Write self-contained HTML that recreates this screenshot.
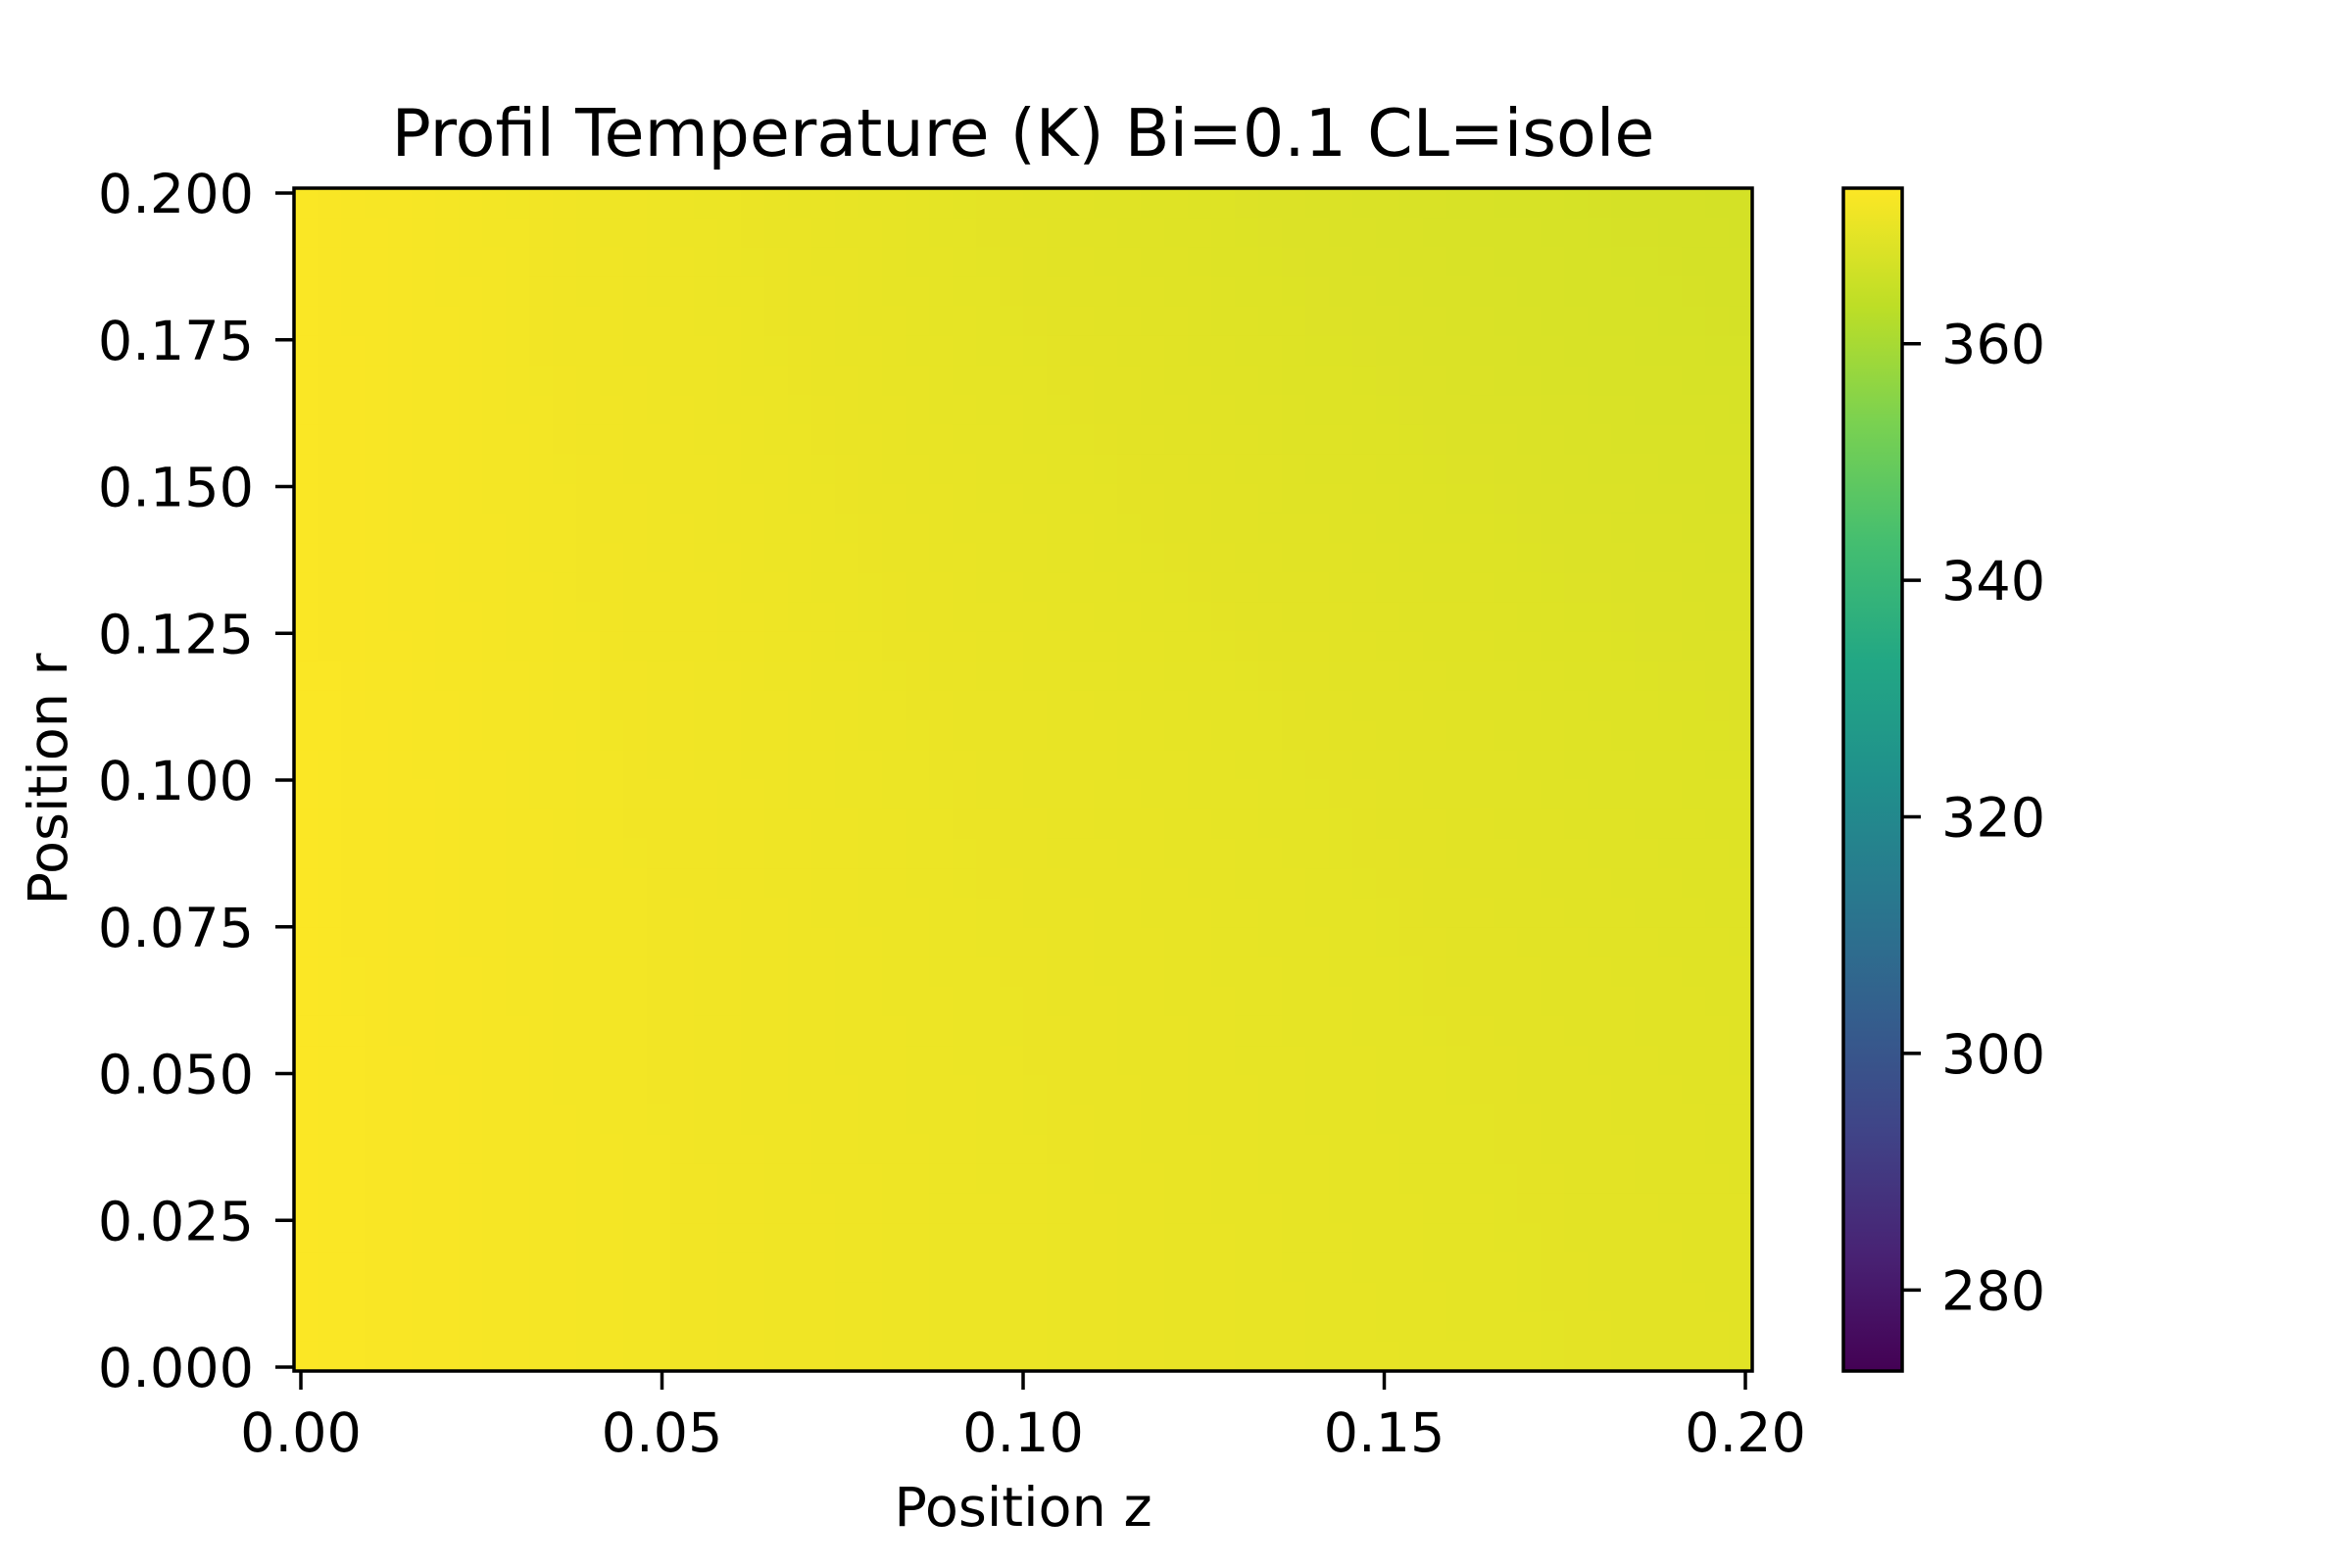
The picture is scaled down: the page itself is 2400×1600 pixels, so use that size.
<!DOCTYPE html>
<html><head><meta charset="utf-8"><style>
html,body{margin:0;padding:0;background:#fff;}
svg{display:block;font-family:"DejaVu Sans","Liberation Sans",sans-serif;}
</style></head><body>
<svg id="chart" width="2400" height="1600" viewBox="0 0 2400 1600" xmlns="http://www.w3.org/2000/svg">
<rect x="0" y="0" width="2400" height="1600" fill="#fff"/>
<text x="1044" y="159" font-size="66.7" text-anchor="middle">Profil Temperature (K) Bi=0.1 CL=isole</text>
<g id="field"></g>
<rect x="300" y="192" width="1488" height="1207" fill="none" stroke="#000" stroke-width="3.5"/>
<g id="xticks"></g>
<g id="yticks"></g>
<text x="1044" y="1557" font-size="55.6" text-anchor="middle">Position z</text>
<text transform="translate(68,795) rotate(-90)" font-size="55.6" text-anchor="middle">Position r</text>
<defs><linearGradient id="vir" x1="0" y1="1" x2="0" y2="0"></linearGradient></defs>
<rect x="1881" y="192" width="60" height="1207" fill="url(#vir)"/>
<rect x="1881" y="192" width="60" height="1207" fill="none" stroke="#000" stroke-width="3.5"/>
<g id="cticks"></g>
</svg>
<script>
// ---- data ----
const zValues = [0,0.02,0.04,0.06,0.08,0.10,0.12,0.14,0.16,0.18,0.20];
const rValues = [0,0.025,0.05,0.075,0.10,0.125,0.15,0.175,0.20];
const tempRow0   = [372.8,372.3,371.8,371.3,370.9,370.5,370.1,369.8,369.5,369.2,369.0];
const tempRow1   = [372.8,372.3,371.8,371.3,370.9,370.5,370.1,369.7,369.4,369.1,368.9];
const tempRow2   = [372.8,372.3,371.7,371.2,370.8,370.4,370.0,369.6,369.3,369.0,368.7];
const tempRow3   = [372.8,372.2,371.7,371.2,370.7,370.3,369.9,369.5,369.1,368.8,368.5];
const tempRow4   = [372.8,372.2,371.6,371.1,370.6,370.1,369.7,369.3,368.9,368.5,368.2];
const tempRow5   = [372.7,372.1,371.5,371.0,370.4,369.9,369.4,369.0,368.6,368.2,367.9];
const tempRow6   = [372.7,372.0,371.4,370.8,370.2,369.6,369.1,368.6,368.2,367.8,367.5];
const tempRow7   = [372.7,372.0,371.2,370.6,369.9,369.3,368.8,368.2,367.8,367.3,367.0];
const tempRow8   = [372.7,371.9,371.1,370.4,369.7,369.0,368.4,367.9,367.4,367.0,366.7];
const tempRows = [tempRow0,tempRow1,tempRow2,tempRow3,tempRow4,tempRow5,tempRow6,tempRow7,tempRow8];
const xTickValues = [0,0.05,0.10,0.15,0.20];
const xTickLabels = ["0.00","0.05","0.10","0.15","0.20"];
const yTickValues = [0,0.025,0.05,0.075,0.1,0.125,0.15,0.175,0.2];
const yTickLabels = ["0.000","0.025","0.050","0.075","0.100","0.125","0.150","0.175","0.200"];
const cTickValues = [280,300,320,340,360];
const cTickLabels = ["280","300","320","340","360"];
const cMin = 273.15, cMax = 373.15;

// ---- scales ----
const NS="http://www.w3.org/2000/svg";
const xS = v => 307 + v*7370;
const yS = v => 1395 - v*5990;
const cS = v => 1399 - (v-cMin)/(cMax-cMin)*1207;
const VIR=[[68,1,84],[72,35,116],[64,67,135],[52,94,141],[41,120,142],[32,144,140],[34,167,132],[68,190,112],[121,209,81],[189,222,38],[253,231,37]];
function vir(t){t=Math.max(0,Math.min(1,t));const f=t*10,i=Math.min(9,Math.floor(f)),u=f-i;const a=VIR[i],b=VIR[i+1];
return `rgb(${Math.round(a[0]+(b[0]-a[0])*u)},${Math.round(a[1]+(b[1]-a[1])*u)},${Math.round(a[2]+(b[2]-a[2])*u)})`;}
function mk(tag,attrs,parent){const e=document.createElementNS(NS,tag);for(const k in attrs)e.setAttribute(k,attrs[k]);parent.appendChild(e);return e;}

// colorbar gradient
const grad=document.getElementById('vir');
for(let i=0;i<=10;i++){mk('stop',{offset:(i*10)+'%','stop-color':vir(i/10)},grad);}

// field (gouraud-style interpolation between data nodes)
function sample(z,r){
  const zc=Math.max(zValues[0],Math.min(zValues[zValues.length-1],z));
  const rc=Math.max(rValues[0],Math.min(rValues[rValues.length-1],r));
  let i=0;while(i<zValues.length-2&&zc>zValues[i+1])i++;
  let j=0;while(j<rValues.length-2&&rc>rValues[j+1])j++;
  const u=(zc-zValues[i])/(zValues[i+1]-zValues[i]),w=(rc-rValues[j])/(rValues[j+1]-rValues[j]);
  const a=tempRows[j][i],b=tempRows[j][i+1],c=tempRows[j+1][i],d=tempRows[j+1][i+1];
  return a*(1-u)*(1-w)+b*u*(1-w)+c*(1-u)*w+d*u*w;
}
const field=document.getElementById('field');
const NX=62,NY=40,x0=300,x1=1788,y0=192,y1=1399;
for(let iy=0;iy<NY;iy++){for(let ix=0;ix<NX;ix++){
  const px=x0+(x1-x0)*ix/NX, py=y0+(y1-y0)*iy/NY, pw=(x1-x0)/NX, ph=(y1-y0)/NY;
  const z=(px+pw/2-307)/7370, r=(1395-(py+ph/2))/5990;
  const t=sample(z,r);
  const c=mk('rect',{x:px.toFixed(2),y:py.toFixed(2),width:(pw+0.8).toFixed(2),height:(ph+0.8).toFixed(2),fill:vir((t-cMin)/(cMax-cMin))},field);
  
  
}}

// axes ticks
const xg=document.getElementById('xticks');
xTickValues.forEach((v,k)=>{
  const l=mk('line',{x1:xS(v),x2:xS(v),y1:1399,y2:1418,stroke:'#000','stroke-width':3.5},xg);
  
  
  const t=mk('text',{x:xS(v),y:1481,'font-size':55.6,'text-anchor':'middle'},xg);t.textContent=xTickLabels[k];
  
  
});
const yg=document.getElementById('yticks');
yTickValues.forEach((v,k)=>{
  const l=mk('line',{x1:281,x2:300,y1:yS(v),y2:yS(v),stroke:'#000','stroke-width':3.5},yg);
  
  
  const t=mk('text',{x:259,y:yS(v)+20,'font-size':55.6,'text-anchor':'end'},yg);t.textContent=yTickLabels[k];
  
  
});
const cg=document.getElementById('cticks');
cTickValues.forEach((v,k)=>{
  const l=mk('line',{x1:1941,x2:1960,y1:cS(v),y2:cS(v),stroke:'#000','stroke-width':3.5},cg);
  
  
  const t=mk('text',{x:1981,y:cS(v)+20,'font-size':55.6,'text-anchor':'start'},cg);t.textContent=cTickLabels[k];
  
  
});
</script>
</body></html>
